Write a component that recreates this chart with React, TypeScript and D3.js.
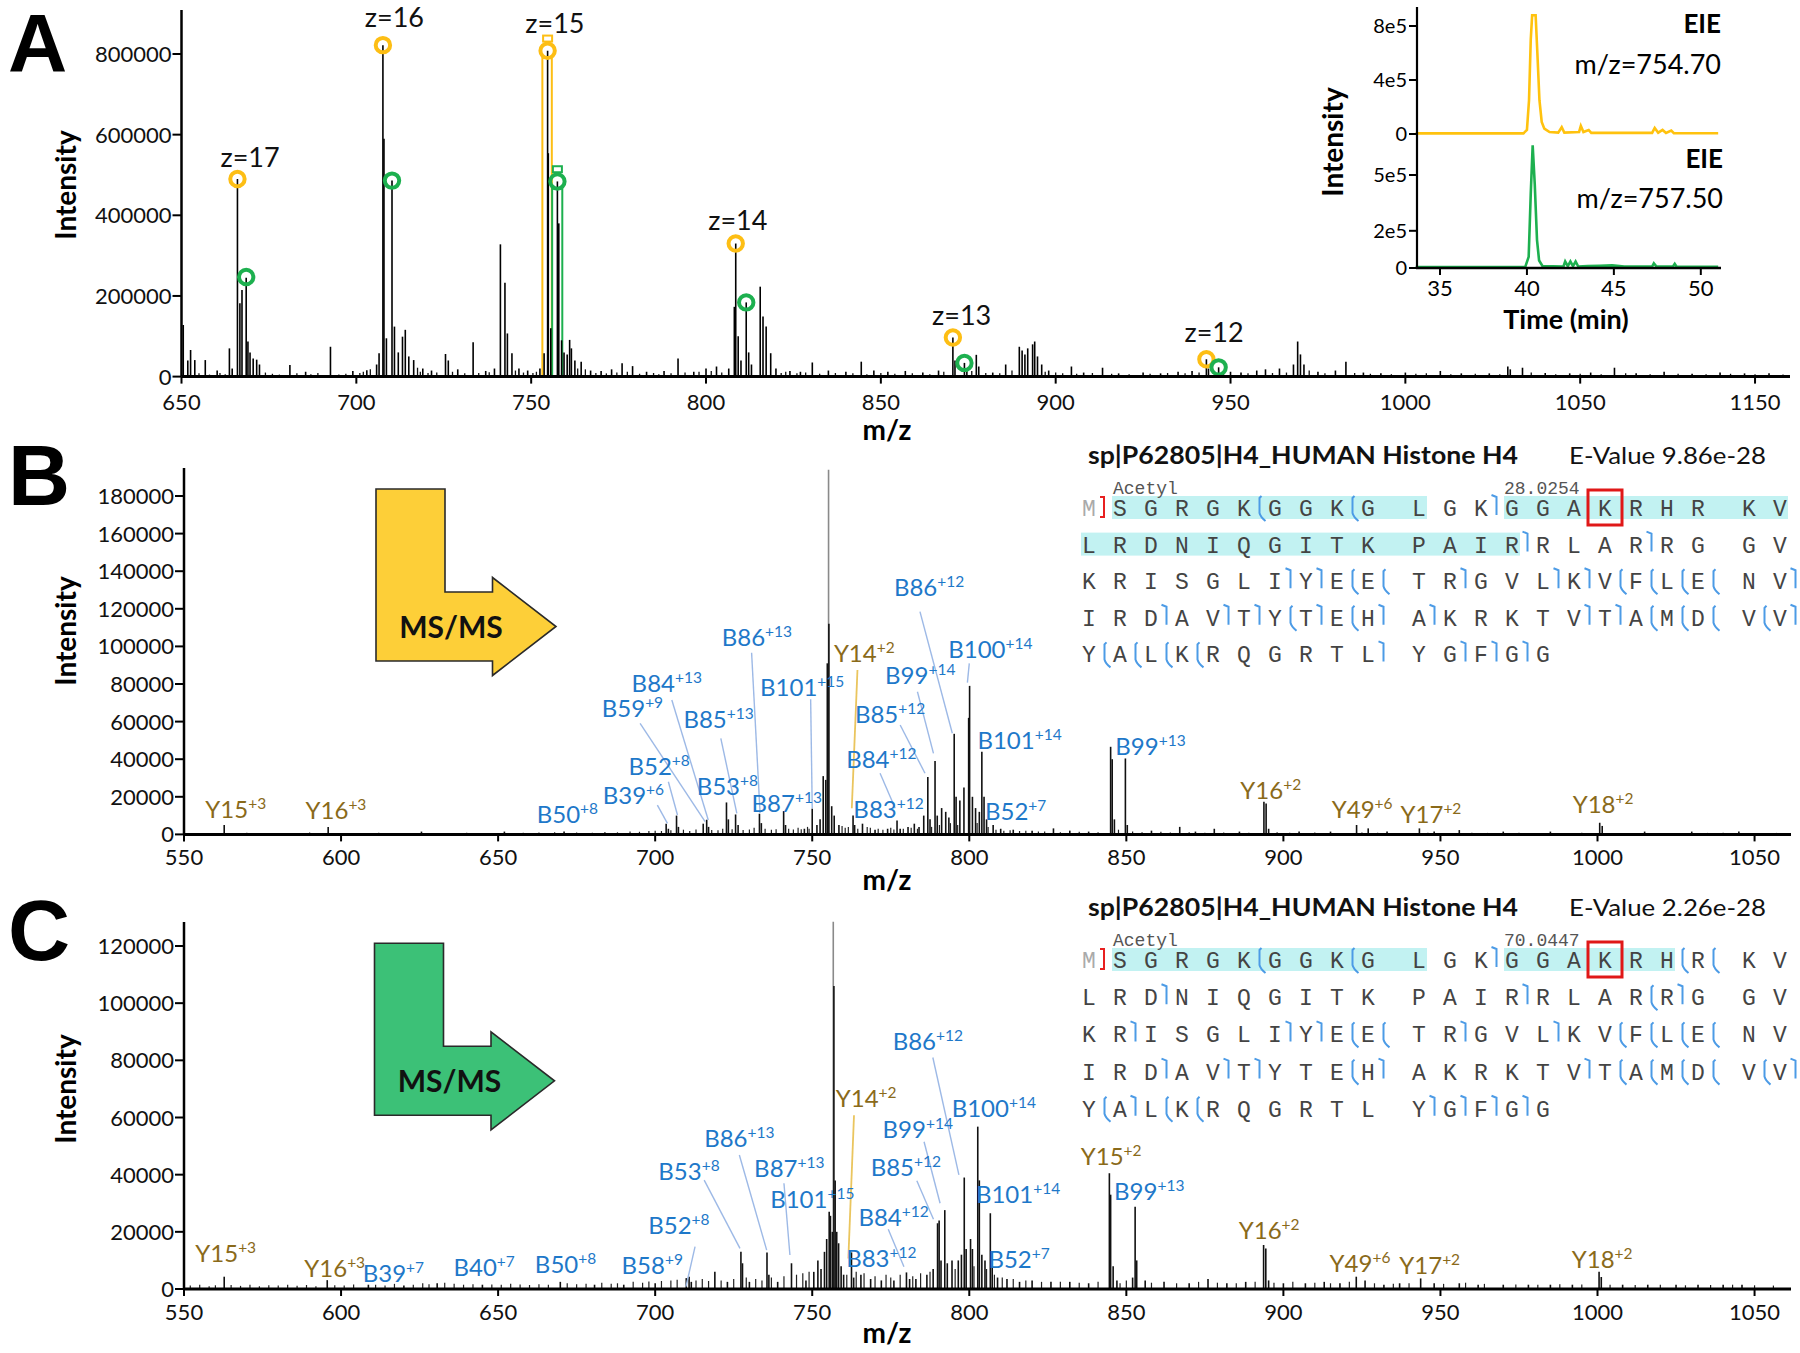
import React from "react";
import * as d3 from "d3";

const FONT = "Lato, 'Open Sans', 'DejaVu Sans', sans-serif";
const MONO = "'Liberation Mono', 'DejaVu Sans Mono', monospace";
const BLUE = "#1E78C9";
const GOLD = "#8A6A1A";
const BLUE_LEAD = "#9DB9E6";
const GOLD_LEAD = "#EAC55E";
const YEL = "#FDBE14";
const GRN = "#1DB04F";

// ---------------- Panel A : MS1 spectrum ----------------
const msA_xTicks = [650, 700, 750, 800, 850, 900, 950, 1000, 1050, 1100];
const msA_xTickLabels = ["650", "700", "750", "800", "850", "900", "950", "1000", "1050", "1150"];
const msA_yTicks = [0, 200000, 400000, 600000, 800000];
const msA_peaks: [number, number][] = [
  [650.5, 128000], [651.8, 40000], [652.6, 66000], [653.8, 41000], [656.8, 41000], [660.2, 15000], [663.7, 70000], [664.5, 20000],
  [666.0, 490000], [666.7, 182000], [667.3, 215000], [668.5, 245000], [669.0, 87000], [669.6, 60000], [670.5, 45000], [671.5, 42000],
  [672.3, 30000], [681.0, 29000], [685.5, 12000], [692.6, 74000], [699.0, 14000], [703.0, 16000], [705.8, 30000], [706.5, 58000],
  [707.6, 822000], [707.9, 590000], [708.6, 95000], [710.2, 486000], [710.9, 124000], [712.0, 60000], [713.2, 99000], [714.0, 116000],
  [715.0, 50000], [716.4, 41000], [719.0, 20000], [721.5, 15000], [725.5, 56000], [726.3, 40000], [729.0, 18000], [733.4, 85000],
  [737.0, 14000], [739.5, 20000], [741.2, 328000], [742.5, 233000], [743.2, 107000], [744.5, 58000], [746.5, 20000], [749.0, 15000],
  [752.5, 20000], [753.7, 58000], [754.7, 808000], [754.9, 554000], [755.6, 120000], [757.5, 484000], [757.9, 380000], [758.7, 90000],
  [759.4, 60000], [760.3, 55000], [761.0, 91000], [761.5, 70000], [762.5, 40000], [764.3, 37000], [767.0, 15000], [770.0, 14000],
  [773.0, 18000], [776.0, 33000], [779.0, 26000], [783.0, 12000], [788.0, 14000], [792.0, 45000], [796.5, 12000], [800.0, 20000],
  [803.0, 25000], [806.5, 20000], [808.5, 330000], [808.1, 173000], [809.2, 100000], [810.0, 40000], [811.5, 184000], [812.2, 60000],
  [813.0, 30000], [815.5, 223000], [816.3, 149000], [817.2, 124000], [818.5, 58000], [820.0, 20000], [824.0, 14000], [827.0, 12000],
  [830.4, 35000], [835.0, 15000], [840.0, 12000], [844.4, 37000], [848.0, 15000], [852.0, 12000], [857.0, 14000], [862.0, 10000],
  [866.5, 15000], [870.6, 97000], [871.2, 40000], [873.9, 34000], [874.6, 20000], [877.3, 54000], [878.0, 25000], [882.0, 10000],
  [885.7, 30000], [889.6, 74000], [890.4, 65000], [891.2, 55000], [892.0, 70000], [893.4, 80000], [894.0, 87000], [894.8, 50000],
  [896.0, 30000], [898.0, 15000], [904.5, 25000], [908.0, 10000], [913.4, 22000], [918.0, 8000], [925.0, 10000], [930.0, 8000],
  [935.0, 12000], [939.0, 14000], [943.1, 43000], [943.7, 20000], [946.6, 23000], [950.0, 12000], [953.0, 10000], [957.5, 15000],
  [960.0, 18000], [964.0, 20000], [968.0, 30000], [969.2, 87000], [970.0, 55000], [971.0, 30000], [975.0, 12000], [980.0, 15000],
  [983.0, 37000], [988.0, 10000], [993.0, 8000], [1000.0, 10000], [1010.0, 14000], [1016.0, 8000], [1024.0, 8000], [1029.3, 25000],
  [1030.0, 18000], [1033.5, 22000], [1040.0, 9000], [1047.0, 8000], [1053.0, 10000], [1059.8, 22000], [1066.0, 8000], [1074.0, 12000],
  [1082.0, 7000], [1090.0, 10000], [1097.0, 8000], [1104.0, 8000],
];
const msA_noise: [number, number][] = [
  [655, 8000], [658, 5000], [661, 9000], [662.5, 6000], [674, 10000], [676, 7000], [678, 5000], [683, 8000], [687, 6000], [689, 9000],
  [695, 5000], [697, 7000], [701, 9000], [702, 12000], [704, 18000], [717.5, 22000], [718.3, 12000], [720.5, 9000], [723, 10000],
  [727.5, 12000], [731, 8000], [735, 9000], [738, 11000], [745.5, 15000], [747.8, 10000], [750.5, 9000], [751.5, 12000], [763.3, 20000],
  [765.5, 18000], [768.5, 9000], [771.5, 8000], [774.5, 10000], [777.5, 12000], [781, 7000], [785, 9000], [786.5, 6000], [790, 8000],
  [794, 10000], [798, 12000], [801.5, 14000], [804.5, 10000], [821.5, 9000], [822.8, 12000], [826, 8000], [828.5, 10000], [832.5, 7000],
  [837, 9000], [842, 8000], [846, 6000], [850, 9000], [854, 7000], [859, 8000], [864, 6000], [868, 12000], [876, 14000], [880, 9000],
  [884, 8000], [887.5, 15000], [897, 12000], [900, 10000], [902, 8000], [906, 7000], [910.5, 9000], [916, 7000], [921, 6000], [927, 7000],
  [932, 9000], [937, 8000], [941, 10000], [948, 9000], [955, 8000], [962, 9000], [966, 10000], [972.5, 15000], [977, 8000], [985.5, 9000],
  [990, 7000], [996, 6000], [1003, 7000], [1006, 8000], [1013, 6000], [1020, 7000], [1027, 6000], [1036, 10000], [1043, 6000], [1050, 7000],
  [1056, 6000], [1063, 8000], [1070, 6000], [1078, 7000], [1086, 6000], [1093, 7000], [1100, 6000], [1108, 5000],
];
const msA_yellowMarks: [number, number][] = [[666.0, 490000], [707.6, 822000], [754.7, 808000], [808.5, 330000], [870.6, 97000], [943.1, 43000]];
const msA_greenMarks: [number, number][] = [[668.5, 247000], [710.2, 486000], [757.5, 484000], [811.5, 184000], [873.9, 34000], [946.6, 23000]];
const msA_chargeLabels = [
  { text: "z=17", mz: 669.6, int: 520000 },
  { text: "z=16", mz: 710.9, int: 868000 },
  { text: "z=15", mz: 756.8, int: 852000 },
  { text: "z=14", mz: 809.1, int: 364000 },
  { text: "z=13", mz: 873.1, int: 128000 },
  { text: "z=12", mz: 945.3, int: 86600 },
];
const msA_isolation = [
  { from: 753.2, to: 755.9, color: "yellow" },
  { from: 756.0, to: 758.9, color: "green" },
];

// ---------------- Inset : extracted ion electropherograms ----------------
const eieTimeTicks = [35, 40, 45, 50];
const eieUpperTicks = [0, 400000, 800000];
const eieUpperTickLabels = ["0", "4e5", "8e5"];
const eieLowerTicks = [0, 200000, 500000];
const eieLowerTickLabels = ["0", "2e5", "5e5"];
const eieYellow: [number, number][] = [
  [33.6, 5000], [36, 5000], [39.8, 5000], [40.0, 30000], [40.12, 250000], [40.22, 700000], [40.3, 880000], [40.5, 880000],
  [40.6, 600000], [40.72, 250000], [40.85, 90000], [41.0, 40000], [41.3, 15000], [41.8, 10000], [42.0, 50000], [42.15, 10000],
  [43.0, 15000], [43.1, 60000], [43.25, 15000], [43.55, 30000], [43.7, 8000], [47.2, 8000], [47.35, 45000], [47.55, 10000],
  [47.8, 30000], [48.0, 8000], [48.3, 25000], [48.45, 6000], [51.0, 6000],
];
const eieGreen: [number, number][] = [
  [33.6, 5000], [39.9, 5000], [40.1, 60000], [40.22, 400000], [40.33, 660000], [40.45, 450000], [40.58, 150000], [40.7, 40000],
  [40.9, 10000], [42.1, 8000], [42.2, 35000], [42.35, 10000], [42.5, 35000], [42.65, 10000], [42.8, 35000], [42.95, 8000],
  [43.5, 10000], [44.2, 12000], [44.9, 14000], [45.6, 8000], [47.2, 8000], [47.3, 25000], [47.45, 8000], [48.4, 8000],
  [48.5, 22000], [48.6, 8000], [51.0, 6000],
];

// ---------------- Panels B / C : MS/MS spectra ----------------
const msms_xTicks = [550, 600, 650, 700, 750, 800, 850, 900, 950, 1000, 1050];
const msB_yTicks = [0, 20000, 40000, 60000, 80000, 100000, 120000, 140000, 160000, 180000];
const msC_yTicks = [0, 20000, 40000, 60000, 80000, 100000, 120000];

const msB_gray: [number, number][] = [[755.2, 194000]];
const msB_peaks: [number, number][] = [
  [562.8, 5000], [595.9, 4000], [625.6, 1500], [652, 1500], [671, 1500], [703.5, 5700], [704.2, 3000], [706.8, 10000], [707.4, 4000],
  [715.3, 5700], [716.4, 7800], [717, 4000], [722.7, 17000], [723.3, 8000], [725.6, 10600], [726.4, 5000], [733.2, 11000], [733.8, 6000],
  [740.9, 12400], [741.5, 5000], [747.5, 3000], [750.0, 13700], [751.5, 5000], [752.5, 8000], [753.5, 31000], [754.3, 29000],
  [754.8, 91000], [755.3, 112000], [756.2, 15000], [757.0, 10000], [758.5, 5000], [763.0, 10000], [763.5, 5000], [766.0, 5700],
  [770, 2500], [774, 3000], [777.0, 7400], [778, 3000], [780.5, 4000], [782.5, 5700], [784, 4000], [785.5, 10000], [786.8, 30500],
  [787.5, 8000], [789.1, 39000], [789.8, 10000], [791.2, 14000], [792.5, 12000], [793.5, 9000], [795.2, 53500], [795.8, 20000],
  [797, 18000], [798.3, 25000], [799.8, 62000], [800.1, 79000], [801, 20000], [802, 14000], [803.2, 12000], [804, 44000], [804.7, 20000],
  [805.5, 8000], [807.6, 5000], [810, 3000], [814, 2500], [820, 2000], [826.8, 3200], [832, 2000], [838, 1500], [845, 46600],
  [845.5, 40000], [846.2, 8000], [849.7, 40400], [850.3, 5000], [858, 2000], [867, 4000], [872, 1500], [878, 3000], [886, 1500],
  [893.8, 17400], [894.5, 16500], [895.3, 3000], [905, 1500], [915, 1500], [923.3, 5000], [927, 3200], [933, 1500], [943.3, 3200],
  [948, 1500], [956, 2300], [970, 1500], [985, 1500], [1000.7, 6200], [1001.5, 4500], [1015, 1500], [1030, 1500], [1045, 1500],
];
const msB_noise: [number, number][] = [
  [555, 800], [570, 900], [580, 700], [590, 1000], [605, 800], [612, 900], [620, 700], [633, 800], [640, 900], [645, 700], [658, 900],
  [663, 1000], [668, 1200], [675, 1000], [680, 900], [684, 1300], [688, 1100], [692, 1500], [695, 1400], [698, 1800], [700, 2000],
  [702, 1800], [705, 2200], [709, 2500], [711, 1800], [713, 2600], [718, 2400], [720, 2200], [721.5, 3000], [724.5, 2800], [728, 2400],
  [730, 2600], [731.5, 3500], [735, 3000], [737, 2500], [738.5, 2800], [742.5, 3000], [744, 2600], [745.5, 3500], [746.5, 2800],
  [748.5, 4000], [749, 3000], [759.5, 4500], [760.5, 3500], [761.5, 4000], [764.5, 3000], [767.5, 4000], [768.5, 3500], [771, 3000],
  [772.5, 2500], [775, 3500], [776, 2600], [779, 3000], [781.5, 3500], [783.5, 3000], [788, 4000], [790.5, 5000], [794, 6000],
  [796.3, 5000], [802.5, 6000], [806, 4000], [808.5, 2500], [811, 2000], [813, 2200], [816, 1800], [818, 2000], [822, 1500],
  [824, 1600], [829, 1200], [835, 1400], [841, 1200], [847.5, 2500], [852, 1500], [855, 1200], [861, 1400], [864, 1000], [870, 1200],
  [875, 900], [881, 1000], [889, 900], [898, 1200], [902, 900], [910, 1000], [918, 800], [925, 1000], [930, 900], [938, 800],
  [946, 900], [952, 800], [960, 900], [965, 800], [975, 900], [980, 800], [990, 700], [995, 900], [1005, 800], [1010, 700],
  [1020, 800], [1025, 700], [1035, 800], [1040, 900], [1050, 700], [1057, 800],
];

const msC_gray: [number, number][] = [[756.7, 128500]];
const msC_peaks: [number, number][] = [
  [562.8, 4300], [595.6, 3100], [608.7, 1500], [620, 1200], [630.6, 2000], [645, 1500], [669.8, 2500], [680.7, 1500], [690, 1500],
  [700, 2000], [709.9, 3800], [710.8, 4300], [711.5, 2500], [719, 6000], [723, 2500], [727.3, 13000], [727.8, 9000], [730, 2500],
  [735.6, 12800], [736.2, 5000], [739, 2500], [743.4, 9000], [748, 3000], [750.5, 6000], [751.8, 10000], [752.8, 7000], [753.9, 13000],
  [754.6, 17500], [755.4, 27000], [755.8, 25600], [756.4, 20000], [756.9, 106000], [757.3, 38000], [757.8, 20000], [758.4, 16000],
  [759.2, 8000], [760, 5000], [762.5, 12800], [763.2, 4000], [765.5, 5000], [768.6, 3500], [772, 3000], [776, 3000], [780, 5800],
  [781, 3500], [783, 3500], [786.5, 5000], [788.5, 7000], [789.9, 23000], [790.4, 24000], [791, 10000], [792.2, 27600], [793, 9000],
  [794.5, 10000], [796.5, 10000], [797.5, 12000], [798.4, 39000], [799, 14000], [800.4, 17500], [801, 14000], [802.7, 56800],
  [803.2, 38000], [804, 12000], [805, 10000], [806.7, 26500], [807.3, 8000], [809, 4000], [812, 3500], [816, 2500], [820, 3000],
  [826, 2500], [832, 2500], [838, 2000], [844.6, 40500], [845, 33000], [845.8, 8000], [847, 3000], [852.0, 4000], [852.8, 28800],
  [853.3, 10000], [856, 3000], [862, 2500], [870, 2000], [876, 3500], [882, 2000], [888, 2500], [893.7, 15400], [894.4, 14200],
  [895.3, 3000], [900, 2000], [907, 2000], [913, 2500], [918, 2000], [923.2, 4300], [926, 3000], [932, 1500], [937, 2000],
  [943.7, 3700], [948, 2000], [956, 2000], [962, 1500], [970, 1500], [978, 1500], [985, 1500], [992, 1500], [1000.5, 6000],
  [1001.2, 4200], [1008, 1500], [1016, 1500], [1025, 1500], [1032, 1500], [1040, 1500], [1046, 1500],
];
const msC_noise: [number, number][] = [
  [552, 1200], [555, 1500], [558, 1000], [560, 1300], [565, 1400], [568, 1100], [571, 1500], [574, 1000], [577, 1300], [580, 1200],
  [583, 1500], [586, 1100], [589, 1400], [592, 1000], [598, 1300], [601, 1200], [604, 1600], [611, 1500], [614, 1200], [617, 1800],
  [623, 1500], [626, 2000], [628, 1700], [633, 2200], [636, 1800], [639, 1500], [642, 1700], [648, 1600], [651, 1500], [654, 1800],
  [657, 1600], [660, 1400], [663, 1700], [666, 1500], [672, 2000], [675, 1700], [678, 1800], [683, 2200], [686, 1800], [688, 2000],
  [693, 2500], [696, 2200], [698, 2600], [702, 2800], [705, 3000], [707, 3200], [713, 3000], [715, 3500], [717, 2800], [721, 3000],
  [725, 3500], [729, 4000], [732, 3500], [734, 3000], [737, 4000], [741, 4500], [745, 5000], [747, 5500], [749, 6000], [761, 5000],
  [764, 6000], [766.5, 5500], [770, 4500], [773.5, 5000], [775, 4000], [778, 5000], [782, 4500], [784.5, 5500], [787.5, 6000],
  [795.5, 7000], [801.5, 8000], [805.5, 7000], [808, 5000], [810.5, 4000], [814, 3500], [818, 3000], [823, 2500], [829, 2500],
  [835, 2200], [841, 2500], [848, 2000], [850, 3000], [858, 2200], [866, 2000], [873, 2500], [879, 2200], [885, 2000], [891, 2500],
  [897, 2200], [903, 2500], [910, 2200], [915, 2000], [921, 2500], [929, 2000], [935, 1800], [940, 2000], [951, 1800], [958, 2200],
  [964, 1800], [974, 1600], [981, 1500], [988, 1700], [995, 1600], [1004, 1500], [1012, 1400], [1020, 1500], [1028, 1300],
  [1036, 1400], [1043, 1500], [1050, 1300], [1056, 1200],
];

type Ion = { ion: string; charge: string; at: [number, number]; lead?: [[number, number], [number, number]] };

const msB_ions: Ion[] = [
  { ion: "B86", charge: "+13", at: [721.2, 100200], lead: [[730.7, 96600], [733.4, 11400]] },
  { ion: "Y14", charge: "+2", at: [756.9, 91900], lead: [[764.4, 87400], [762.6, 13900]] },
  { ion: "B84", charge: "+13", at: [692.5, 75900], lead: [[705.3, 71500], [716.9, 7700]] },
  { ion: "B101", charge: "+15", at: [733.4, 73600], lead: [[749.5, 71900], [750.0, 13900]] },
  { ion: "B59", charge: "+9", at: [683.0, 62600], lead: [[695.2, 59100], [715.9, 6800]] },
  { ion: "B85", charge: "+13", at: [709.0, 56400], lead: [[720.9, 51100], [726.0, 11200]] },
  { ion: "B52", charge: "+8", at: [691.5, 31600], lead: [[704.2, 28000], [707.1, 10300]] },
  { ion: "B53", charge: "+8", at: [713.2, 21000] },
  { ion: "B39", charge: "+6", at: [683.3, 16200], lead: [[700.7, 15600], [703.9, 5900]] },
  { ion: "B87", charge: "+13", at: [730.7, 12100] },
  { ion: "B50", charge: "+8", at: [662.3, 6200] },
  { ion: "B86", charge: "+12", at: [776.0, 126800], lead: [[784.3, 118500], [794.6, 53800]] },
  { ion: "B100", charge: "+14", at: [793.3, 93700], lead: [[800.0, 91000], [799.4, 80700]] },
  { ion: "B99", charge: "+14", at: [773.2, 80000], lead: [[783.5, 75900], [788.6, 43100]] },
  { ion: "B85", charge: "+12", at: [763.6, 59100], lead: [[778.0, 58200], [785.9, 32500]] },
  { ion: "B84", charge: "+12", at: [760.8, 35200], lead: [[771.6, 32500], [776.4, 13900]] },
  { ion: "B83", charge: "+12", at: [763.1, 8600] },
  { ion: "B101", charge: "+14", at: [802.6, 45300] },
  { ion: "B52", charge: "+7", at: [805.0, 7700] },
  { ion: "B99", charge: "+13", at: [846.5, 42200] },
  { ion: "Y16", charge: "+2", at: [886.3, 18700] },
  { ion: "Y49", charge: "+6", at: [915.4, 8600] },
  { ion: "Y17", charge: "+2", at: [937.3, 5900] },
  { ion: "Y18", charge: "+2", at: [992.1, 11500] },
  { ion: "Y15", charge: "+3", at: [556.8, 8600] },
  { ion: "Y16", charge: "+3", at: [588.7, 8000] },
];

const msC_ions: Ion[] = [
  { ion: "B86", charge: "+12", at: [775.6, 83600], lead: [[788.4, 81000], [796.7, 39900]] },
  { ion: "Y14", charge: "+2", at: [757.5, 63800], lead: [[763.3, 60800], [761.5, 10700]] },
  { ion: "B100", charge: "+14", at: [794.4, 60300] },
  { ion: "B86", charge: "+13", at: [715.6, 49800], lead: [[726.8, 46900], [735.5, 13600]] },
  { ion: "B99", charge: "+14", at: [772.4, 52700], lead: [[785.6, 51500], [790.7, 30000]] },
  { ion: "B53", charge: "+8", at: [701.0, 38100], lead: [[715.6, 38100], [727.0, 14200]] },
  { ion: "B87", charge: "+13", at: [731.5, 39300], lead: [[741.0, 37000], [742.9, 11900]] },
  { ion: "B85", charge: "+12", at: [768.6, 39500], lead: [[783.3, 37900], [788.6, 24400]] },
  { ion: "B101", charge: "+15", at: [736.6, 28200] },
  { ion: "B52", charge: "+8", at: [697.8, 19200], lead: [[712.7, 14800], [709.8, 800]] },
  { ion: "B84", charge: "+12", at: [764.7, 22000], lead: [[774.2, 20900], [779.2, 7800]] },
  { ion: "B58", charge: "+9", at: [689.3, 5200] },
  { ion: "B83", charge: "+12", at: [760.8, 7800] },
  { ion: "B101", charge: "+14", at: [802.1, 30000] },
  { ion: "B52", charge: "+7", at: [806.1, 7200] },
  { ion: "Y15", charge: "+2", at: [835.5, 43400] },
  { ion: "B99", charge: "+13", at: [846.1, 31100] },
  { ion: "Y16", charge: "+2", at: [885.8, 17400] },
  { ion: "Y49", charge: "+6", at: [914.7, 6000] },
  { ion: "Y17", charge: "+2", at: [936.9, 5200] },
  { ion: "Y18", charge: "+2", at: [991.8, 7400] },
  { ion: "Y15", charge: "+3", at: [553.6, 9500] },
  { ion: "Y16", charge: "+3", at: [588.3, 4300] },
  { ion: "B39", charge: "+7", at: [606.9, 2600] },
  { ion: "B40", charge: "+7", at: [635.8, 4500] },
  { ion: "B50", charge: "+8", at: [661.7, 5700] },
];

// ---------------- Sequence coverage ----------------
const h4Sequence = "MSGRGKGGKGLGKGGAKRHRKVLRDNIQGITKPAIRRLARRGGVKRISGLIYEETRGVLKVFLENVIRDAVTYTEHAKRKTVTAMDVVYALKRQGRTLYGFGG";
const seqB_highlights: [number, number][] = [[1, 10], [13, 35]];
const seqC_highlights: [number, number][] = [[1, 10], [13, 18]];
// fragment marks after residue index: "b" = N-terminal (top hook), "y" = C-terminal (bottom hook)
const seqB_marks: [number, string][] = [
  [5, "y"], [8, "y"], [12, "b"], [35, "b"], [39, "b"],
  [50, "b"], [51, "b"], [52, "y"], [53, "y"], [55, "b"], [58, "b"], [59, "b"], [60, "y"], [61, "y"], [62, "y"], [63, "y"], [65, "b"],
  [68, "b"], [70, "b"], [71, "b"], [72, "y"], [73, "b"], [74, "y"], [75, "b"], [76, "b"], [81, "b"], [82, "b"], [83, "y"], [84, "y"],
  [85, "y"], [86, "y"], [87, "b"],
  [88, "y"], [89, "y"], [90, "y"], [91, "y"], [97, "b"], [99, "b"], [100, "b"], [101, "b"],
];
const seqC_marks: [number, string][] = [
  [5, "y"], [8, "y"], [12, "b"], [18, "y"], [19, "y"],
  [24, "b"], [35, "b"], [39, "y"], [40, "b"],
  [45, "b"], [50, "b"], [51, "b"], [52, "y"], [53, "y"], [55, "b"], [58, "b"], [60, "y"], [61, "y"], [62, "y"], [63, "y"],
  [68, "b"], [70, "b"], [71, "b"], [74, "y"], [75, "b"], [81, "b"], [82, "y"], [83, "y"], [84, "y"], [85, "y"], [86, "y"], [87, "b"],
  [88, "y"], [89, "b"], [90, "y"], [91, "y"], [98, "b"], [99, "b"], [100, "b"], [101, "b"],
];
const modifiedResidue = 16;
const seqB_info = { title: "sp|P62805|H4_HUMAN Histone H4", evalue: "E-Value 9.86e-28", mass: "28.0254" };
const seqC_info = { title: "sp|P62805|H4_HUMAN Histone H4", evalue: "E-Value 2.26e-28", mass: "70.0447" };

// ============ components ============
function IonLabel({ x, y, ion, charge, color }: any) {
  return (
    <text x={x} y={y} fill={color} fontFamily={FONT} fontSize={24}>
      {ion}
      <tspan fontSize={15.5} dy={-9}>{charge}</tspan>
    </text>
  );
}

function Stems({ data, x, y, color, width }: any) {
  return (
    <g stroke={color} strokeWidth={width}>
      {data.map((d: [number, number], i: number) => (
        <line key={i} x1={x(d[0])} x2={x(d[0])} y1={y(0)} y2={y(d[1])} />
      ))}
    </g>
  );
}

function YAxis({ x0, y, ticks, labels, top, fontSize = 22 }: any) {
  return (
    <g>
      <line x1={x0} x2={x0} y1={top} y2={y(0)} stroke="#000" strokeWidth={2.5} />
      {ticks.map((t: number, i: number) => (
        <g key={i}>
          <line x1={x0 - 9} x2={x0} y1={y(t)} y2={y(t)} stroke="#000" strokeWidth={2} />
          <text x={x0 - 10} y={y(t) + 8} textAnchor="end" fontFamily={FONT} fontSize={fontSize} fill="#111">
            {labels ? labels[i] : String(t)}
          </text>
        </g>
      ))}
    </g>
  );
}

function XAxis({ x, y0, ticks, labels, labelY }: any) {
  const [a, b] = x.range();
  return (
    <g>
      <line x1={a} x2={b} y1={y0} y2={y0} stroke="#000" strokeWidth={3} />
      {ticks.map((t: number, i: number) => (
        <g key={i}>
          <line x1={x(t)} x2={x(t)} y1={y0} y2={y0 + 7} stroke="#000" strokeWidth={2} />
          <text x={x(t)} y={labelY} textAnchor="middle" fontFamily={FONT} fontSize={22} fill="#111">
            {labels ? labels[i] : String(t)}
          </text>
        </g>
      ))}
    </g>
  );
}

function MsMsArrow({ left, top, fill }: any) {
  const w = 69, h = 172, arm = 69, headX = 116.5, half = 49, tip = 180;
  const armTop = top + h - arm;
  const mid = armTop + arm / 2;
  const p = [
    [left, top], [left + w, top], [left + w, armTop], [left + headX, armTop], [left + headX, mid - half],
    [left + tip, mid], [left + headX, mid + half], [left + headX, top + h], [left, top + h],
  ];
  return (
    <g>
      <path d={"M" + p.map((q) => q.join(",")).join("L") + "Z"} fill={fill} stroke="#2a2a2a" strokeWidth={1.6} />
      <text x={left + 75} y={mid + 11} textAnchor="middle" fontFamily={FONT} fontWeight={700} fontSize={30} fill="#111">MS/MS</text>
    </g>
  );
}

function Spectrum({ x, y, peaks, noise, gray, ions, yTicks, top, labelY, mzY, intensityY, letter, letterY, arrowTop, arrowLeft, arrowFill }: any) {
  return (
    <g>
      <text x={8} y={letterY} fontFamily="'Liberation Sans', Arial, sans-serif" fontWeight={700} fontSize={86} fill="#000">{letter}</text>
      <MsMsArrow left={arrowLeft} top={arrowTop} fill={arrowFill} />
      <Stems data={gray} x={x} y={y} color="#8a8a8a" width={1.6} />
      <Stems data={noise} x={x} y={y} color="#222" width={1.2} />
      <Stems data={peaks} x={x} y={y} color="#111" width={1.6} />
      {ions.map((d: Ion, i: number) => {
        const isY = d.ion[0] === "Y";
        return (
          <g key={i}>
            {d.lead && (
              <line x1={x(d.lead[0][0])} y1={y(d.lead[0][1])} x2={x(d.lead[1][0])} y2={y(d.lead[1][1])}
                stroke={isY ? GOLD_LEAD : BLUE_LEAD} strokeWidth={isY ? 1.8 : 1.4} />
            )}
            <IonLabel x={x(d.at[0])} y={y(d.at[1])} ion={d.ion} charge={d.charge} color={isY ? GOLD : BLUE} />
          </g>
        );
      })}
      <YAxis x0={x.range()[0]} y={y} ticks={yTicks} top={top} />
      <XAxis x={x} y0={y(0)} ticks={msms_xTicks} labelY={labelY} />
      <text x={887} y={mzY} textAnchor="middle" fontFamily={FONT} fontWeight={700} fontSize={28}>m/z</text>
      <text transform={`translate(76,${intensityY}) rotate(-90)`} textAnchor="middle" fontFamily={FONT} fontWeight={700} fontSize={28}>Intensity</text>
    </g>
  );
}

function SequencePanel({ titleY, rowStart, rowStep, highlights, marks, info }: any) {
  const colX = (idx: number) => {
    const pos = idx % 22;
    const g = pos < 10 ? 0 : pos < 20 ? 1 : 2;
    return 1089 + g * 330 + (pos - g * 10) * 31;
  };
  const rowY = (idx: number) => rowStart + Math.floor(idx / 22) * rowStep;
  const letters = h4Sequence.split("");
  const hl: any[] = [];
  highlights.forEach(([a, b]: [number, number]) => {
    let s = a;
    while (s <= b) {
      const rowEnd = Math.min(b, Math.floor(s / 22) * 22 + 21);
      hl.push([s, rowEnd]);
      s = rowEnd + 1;
    }
  });
  const r0 = rowStart;
  return (
    <g>
      <text x={1088} y={titleY} fontFamily={FONT} fontWeight={700} fontSize={25} textLength={430} lengthAdjust="spacingAndGlyphs" fill="#111">{info.title}</text>
      <text x={1569} y={titleY} fontFamily={FONT} fontSize={24} textLength={197} lengthAdjust="spacingAndGlyphs" fill="#111">{info.evalue}</text>
      {hl.map(([a, b]: [number, number], i: number) => (
        <rect key={i} x={colX(a) - 8} y={rowY(a) - 12} width={colX(b) - colX(a) + 16} height={23} fill="#C2F2F2" />
      ))}
      <text x={colX(1) - 7} y={r0 - 14} fontFamily={MONO} fontSize={18} fill="#555">Acetyl</text>
      <text x={colX(13) - 8} y={r0 - 14} fontFamily={MONO} fontSize={18} fill="#555">{info.mass}</text>
      {letters.map((c, i) => (
        <text key={i} x={colX(i)} y={rowY(i) + 8} textAnchor="middle" fontFamily={MONO} fontSize={23}
          fill={i === 0 ? "#aaa" : "#444"}>{c}</text>
      ))}
      <path d={`M${colX(0) + 11},${r0 - 11} L${colX(0) + 15},${r0 - 11} L${colX(0) + 15},${r0 + 9} L${colX(0) + 11},${r0 + 9}`}
        fill="none" stroke="#E82020" strokeWidth={2} />
      <rect x={colX(modifiedResidue) - 17} y={r0 - 18} width={34} height={35} fill="none" stroke="#E01818" strokeWidth={3} />
      {marks.map(([idx, t]: [number, string], i: number) => {
        const mx = colX(idx) + 15.5;
        const my = rowY(idx);
        const d = t === "b"
          ? `M${mx - 5},${my - 13} L${mx},${my - 11} L${mx},${my + 7}`
          : `M${mx + 2},${my - 12} L${mx},${my - 10} L${mx},${my + 5} Q${mx + 1},${my + 9} ${mx + 6},${my + 13}`;
        return <path key={i} d={d} fill="none" stroke="#4C9BE6" strokeWidth={2} />;
      })}
    </g>
  );
}

export default function App() {
  const xA = d3.scaleLinear().domain([650, 1110]).range([181.5, 1790]);
  const yA = d3.scaleLinear().domain([0, 800000]).range([376.6, 54]);
  const tE = d3.scaleLinear().domain([35, 50]).range([1440, 1700.8]);
  const yEu = d3.scaleLinear().domain([0, 800000]).range([134, 26]);
  const yEl = d3.scaleLinear().domain([0, 500000]).range([268, 175]);
  const xMS = d3.scaleLinear().domain([550, 1061.6]).range([184, 1791]);
  const yB = d3.scaleLinear().domain([0, 180000]).range([834.4, 496]);
  const yC = d3.scaleLinear().domain([0, 120000]).range([1289, 946]);

  const lineU = d3.line<[number, number]>().x((d) => tE(d[0])).y((d) => yEu(d[1]));
  const lineL = d3.line<[number, number]>().x((d) => tE(d[0])).y((d) => yEl(d[1]));
  const R = 7.2;

  return (
    <svg width={1800} height={1353} style={{ position: "absolute", left: 0, top: 0, background: "#fff" }}>
      <rect width={1800} height={1353} fill="#fff" />
      {/* ---------- Panel A ---------- */}
      <text x={8} y={71} fontFamily="'Liberation Sans', Arial, sans-serif" fontWeight={700} fontSize={82}>A</text>
      {msA_isolation.map((r, i) => {
        const mark = r.color === "yellow" ? msA_yellowMarks[2] : msA_greenMarks[2];
        const col = r.color === "yellow" ? YEL : GRN;
        const cy = yA(mark[1]);
        return (
          <g key={i} fill="none" stroke={col} strokeWidth={2}>
            <rect x={xA(r.from)} y={cy + R} width={xA(r.to) - xA(r.from)} height={yA(0) - cy - R} />
            <rect x={xA(mark[0]) - 4.5} y={cy - R - 8} width={9} height={6} />
            <line x1={xA(mark[0])} x2={xA(mark[0])} y1={cy - R - 2} y2={cy - R} />
          </g>
        );
      })}
      <Stems data={msA_noise} x={xA} y={yA} color="#111" width={1.3} />
      <Stems data={msA_peaks} x={xA} y={yA} color="#000" width={1.6} />
      {msA_yellowMarks.map((d, i) => (
        <circle key={"y" + i} cx={xA(d[0])} cy={yA(d[1])} r={R} fill="none" stroke={YEL} strokeWidth={4} />
      ))}
      {msA_greenMarks.map((d, i) => (
        <circle key={"g" + i} cx={xA(d[0])} cy={yA(d[1])} r={R} fill="none" stroke={GRN} strokeWidth={4} />
      ))}
      {msA_chargeLabels.map((d, i) => (
        <text key={i} x={xA(d.mz)} y={yA(d.int)} textAnchor="middle" fontFamily={FONT} fontSize={27} fill="#111">{d.text}</text>
      ))}
      <YAxis x0={181.5} y={yA} ticks={msA_yTicks} top={10} />
      <XAxis x={xA} y0={yA(0)} ticks={msA_xTicks} labels={msA_xTickLabels} labelY={410} />
      <text x={887} y={440} textAnchor="middle" fontFamily={FONT} fontWeight={700} fontSize={28}>m/z</text>
      <text transform="translate(76,185) rotate(-90)" textAnchor="middle" fontFamily={FONT} fontWeight={700} fontSize={28}>Intensity</text>

      {/* ---------- Inset EIE ---------- */}
      <path d={lineU(eieYellow) || ""} fill="none" stroke="#FFC20E" strokeWidth={2.6} />
      <path d={lineL(eieGreen) || ""} fill="none" stroke={GRN} strokeWidth={2.6} />
      <line x1={1417} x2={1417} y1={7} y2={268} stroke="#000" strokeWidth={2.2} />
      <line x1={1416} x2={1721} y1={268} y2={268} stroke="#000" strokeWidth={2.6} />
      {eieUpperTicks.map((t, i) => (
        <g key={"u" + i}>
          <line x1={1409} x2={1417} y1={yEu(t)} y2={yEu(t)} stroke="#000" strokeWidth={2} />
          <text x={1407} y={yEu(t) + 7} textAnchor="end" fontFamily={FONT} fontSize={20}>{eieUpperTickLabels[i]}</text>
        </g>
      ))}
      {eieLowerTicks.map((t, i) => (
        <g key={"l" + i}>
          <line x1={1409} x2={1417} y1={yEl(t)} y2={yEl(t)} stroke="#000" strokeWidth={2} />
          <text x={1407} y={yEl(t) + 7} textAnchor="end" fontFamily={FONT} fontSize={20}>{eieLowerTickLabels[i]}</text>
        </g>
      ))}
      {eieTimeTicks.map((t, i) => (
        <g key={"t" + i}>
          <line x1={tE(t)} x2={tE(t)} y1={268} y2={275} stroke="#000" strokeWidth={2} />
          <text x={tE(t)} y={296} textAnchor="middle" fontFamily={FONT} fontSize={22}>{t}</text>
        </g>
      ))}
      <text x={1566} y={329} textAnchor="middle" fontFamily={FONT} fontWeight={700} fontSize={27}>Time (min)</text>
      <text transform="translate(1343,142) rotate(-90)" textAnchor="middle" fontFamily={FONT} fontWeight={700} fontSize={28}>Intensity</text>
      <text x={1721} y={33} textAnchor="end" fontFamily={FONT} fontWeight={700} fontSize={26}>EIE</text>
      <text x={1721} y={74} textAnchor="end" fontFamily={FONT} fontSize={27}>m/z=754.70</text>
      <text x={1723} y={168} textAnchor="end" fontFamily={FONT} fontWeight={700} fontSize={26}>EIE</text>
      <text x={1723} y={208} textAnchor="end" fontFamily={FONT} fontSize={27}>m/z=757.50</text>

      {/* ---------- Panel B ---------- */}
      <Spectrum x={xMS} y={yB} peaks={msB_peaks} noise={msB_noise} gray={msB_gray} ions={msB_ions} yTicks={msB_yTicks}
        top={468} labelY={865} mzY={890} intensityY={631} letter="B" letterY={505} arrowTop={489} arrowLeft={376} arrowFill="#FDCF38" />
      <SequencePanel titleY={464} rowStart={508} rowStep={36.6} highlights={seqB_highlights} marks={seqB_marks} info={seqB_info} />

      {/* ---------- Panel C ---------- */}
      <Spectrum x={xMS} y={yC} peaks={msC_peaks} noise={msC_noise} gray={msC_gray} ions={msC_ions} yTicks={msC_yTicks}
        top={922} labelY={1320} mzY={1343} intensityY={1089} letter="C" letterY={960} arrowTop={943.3} arrowLeft={374.5} arrowFill="#3CC177" />
      <SequencePanel titleY={916} rowStart={960} rowStep={37.2} highlights={seqC_highlights} marks={seqC_marks} info={seqC_info} />
    </svg>
  );
}
